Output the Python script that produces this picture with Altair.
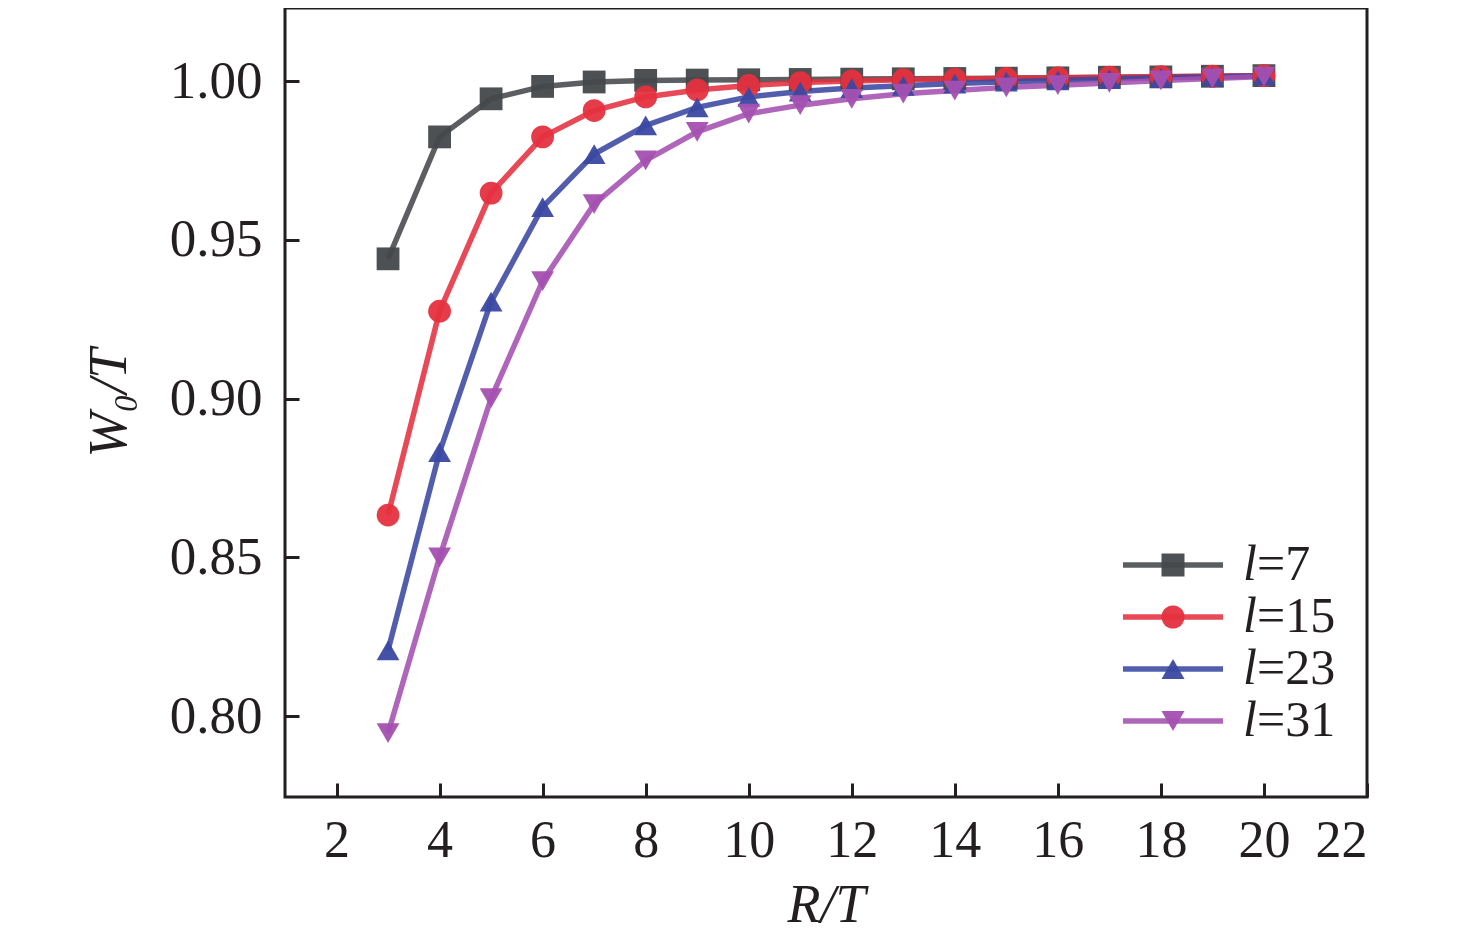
import altair as alt
import pandas as pd

# ---- data ----
r_t = list(range(3, 21))
series_names = ["l=7", "l=15", "l=23", "l=31"]
w_l7 = [0.9440, 0.9824, 0.9944, 0.9983, 0.9997, 1.0002, 1.0003, 1.0004, 1.0005,
        1.0006, 1.0007, 1.0008, 1.0009, 1.0010, 1.0012, 1.0013, 1.0015, 1.0017]
w_l15 = [0.8633, 0.9275, 0.9647, 0.9824, 0.9907, 0.9950, 0.9972, 0.9986, 0.9995,
         1.0000, 1.0004, 1.0006, 1.0008, 1.0010, 1.0012, 1.0014, 1.0015, 1.0017]
w_l23 = [0.8207, 0.8831, 0.9305, 0.9603, 0.9770, 0.9860, 0.9917, 0.9950, 0.9967,
         0.9978, 0.9985, 0.9992, 0.9998, 1.0002, 1.0006, 1.0010, 1.0013, 1.0017]
w_l31 = [0.7946, 0.8500, 0.9001, 0.9370, 0.9612, 0.9750, 0.9840, 0.9897, 0.9924,
         0.9944, 0.9960, 0.9970, 0.9980, 0.9987, 0.9994, 1.0002, 1.0008, 1.0014]

x_ticks = [2, 4, 6, 8, 10, 12, 14, 16, 18, 20, 22]
y_ticks = [0.80, 0.85, 0.90, 0.95, 1.00]

colors = ["#45484b", "#e5303f", "#3a48a2", "#a450b0"]
shapes = ["square", "circle", "triangle-up", "triangle-down"]

rows = []
for name, vals in zip(series_names, [w_l7, w_l15, w_l23, w_l31]):
    for xv, yv in zip(r_t, vals):
        rows.append({"R": xv, "W": yv, "series": name, "series_pt": name})
df = pd.DataFrame(rows)

FONT = "Liberation Serif"
INK = "#231f20"

x_enc = alt.X(
    "R:Q",
    scale=alt.Scale(domain=[1, 22], nice=False, zero=False),
    axis=alt.Axis(
        values=x_ticks, title="R/T", format="d", grid=False, domain=False,
        ticks=True, tickSize=14, tickWidth=3, tickColor=INK, offset=-14,
        labelFont=FONT, labelFontSize=52, labelColor=INK, labelPadding=18,
        titleFont=FONT, titleFontSize=54, titleFontStyle="italic",
        titleFontWeight="normal", titleColor=INK, titlePadding=12,
    ),
)
y_enc = alt.Y(
    "W:Q",
    scale=alt.Scale(domain=[0.7745, 1.023], nice=False, zero=False),
    axis=alt.Axis(
        values=y_ticks, title="W\u2080/T", format=".2f", grid=False, domain=False,
        ticks=True, tickSize=14, tickWidth=3, tickColor=INK, offset=-14,
        labelFont=FONT, labelFontSize=53, labelColor=INK, labelPadding=23,
        titleFont=FONT, titleFontSize=54, titleFontStyle="italic",
        titleFontWeight="normal", titleColor=INK, titlePadding=33,
    ),
)

SYM = 529  # legend symbol area (side 23 px)
legend_common = dict(
    orient="none", title=None, padding=0, rowPadding=2,
    labelFont=FONT, labelFontSize=50, labelColor=INK,
    legendX=863, legendY=532, symbolSize=SYM,
)

lines = alt.Chart(df).mark_line(strokeWidth=5.5, opacity=0.88).encode(
    x=x_enc,
    y=y_enc,
    stroke=alt.Stroke(
        "series:N",
        scale=alt.Scale(domain=series_names, range=colors),
        legend=alt.Legend(
            symbolType="M-4.35,0H4.35",
            symbolStrokeWidth=5.5, symbolOpacity=0.88, labelOffset=59,
            labelExpr="substring(datum.label, 1)",
            **legend_common,
        ),
    ),
)

pt_legend = alt.Legend(
    symbolOpacity=0.95, labelExpr="'l'", labelFontStyle="italic",
    labelOffset=45, **legend_common,
)

points = alt.Chart(df).mark_point(filled=True, size=520, opacity=0.95).encode(
    x=x_enc,
    y=y_enc,
    color=alt.Color(
        "series_pt:N",
        scale=alt.Scale(domain=series_names, range=colors),
        legend=pt_legend,
    ),
    shape=alt.Shape(
        "series_pt:N",
        scale=alt.Scale(domain=series_names, range=shapes),
        legend=pt_legend,
    ),
)

chart = (
    alt.layer(lines, points)
    .resolve_legend(color="independent", shape="independent")
    .properties(
        width=1082, height=789,
        autosize=alt.AutoSizeParams(type="none"),
        padding={"left": 277, "top": 0, "right": 90, "bottom": 140},
        background="white",
    )
    .configure_view(stroke=INK, strokeWidth=3)
)

chart.save("out.html", embed_options={"renderer": "svg", "actions": False})
